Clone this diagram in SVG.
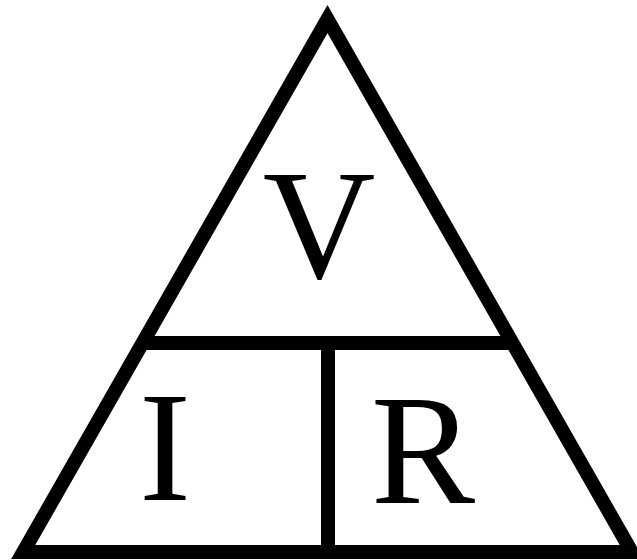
<svg xmlns="http://www.w3.org/2000/svg" width="637" height="560" viewBox="0 0 637 560">
<style>
.ln{fill:none;stroke:#000;stroke-width:14;stroke-linejoin:miter;stroke-miterlimit:10}
.t{font-family:"Liberation Serif","Times New Roman",serif;font-size:156px;fill:#000;text-anchor:middle}
</style>
<rect width="637" height="560" fill="#fff"/>
<g id="connectors">
<polygon class="ln" points="327.5,19 23.2,552 631.8,552"/>
<line class="ln" x1="140" y1="343" x2="515" y2="343" stroke-linejoin="miter"/>
<line class="ln" x1="328" y1="343" x2="328" y2="552"/>
</g>
<g id="V"><text class="t" x="319" y="278">V</text></g>
<g id="I"><text class="t" x="165" y="500">I</text></g>
<g id="R"><text class="t" x="423" y="503">R</text></g>
</svg>
